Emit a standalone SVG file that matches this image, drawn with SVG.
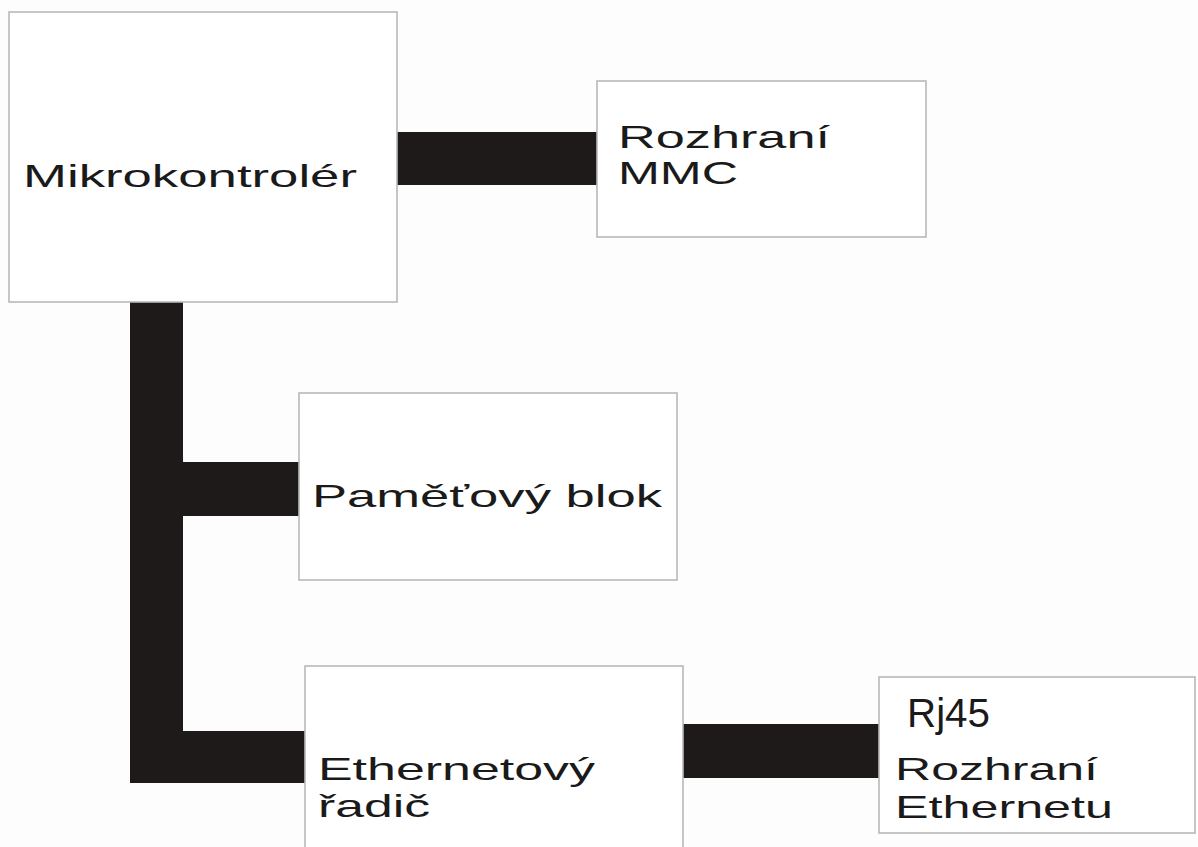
<svg xmlns="http://www.w3.org/2000/svg" width="1198" height="847" viewBox="0 0 1198 847">
<style>
.box{fill:#ffffff;stroke:#b8b8b8;stroke-width:1.6}
.bar{fill:#1e1a19}
.t{font-family:"Liberation Sans",Arial,sans-serif;font-size:32px;fill:#1a1a1a}
</style>
<rect width="1198" height="847" fill="#fdfdfd"/>
<g id="connectors">
<rect class="bar" x="397" y="132" width="201" height="53"/>
<rect class="bar" x="130" y="302" width="53" height="481"/>
<rect class="bar" x="182" y="462" width="118" height="54"/>
<rect class="bar" x="182" y="731" width="124" height="52"/>
<rect class="bar" x="682" y="724" width="198" height="54"/>
</g>
<g id="mikrokontroler">
<rect class="box" x="9" y="12" width="388" height="290"/>
<text class="t" x="23" y="187" textLength="334" lengthAdjust="spacingAndGlyphs">Mikrokontrolér</text>
</g>
<g id="rozhrani-mmc">
<rect class="box" x="597" y="81" width="329" height="156"/>
<text class="t" x="618" y="148" textLength="212" lengthAdjust="spacingAndGlyphs">Rozhraní</text>
<text class="t" x="618" y="184" textLength="120" lengthAdjust="spacingAndGlyphs">MMC</text>
</g>
<g id="pametovy-blok">
<rect class="box" x="299" y="393" width="378" height="187"/>
<text class="t" x="312" y="507" textLength="350" lengthAdjust="spacingAndGlyphs">Paměťový blok</text>
</g>
<g id="ethernetovy-radic">
<rect class="box" x="305" y="666" width="378" height="190"/>
<text class="t" x="318" y="780" textLength="277" lengthAdjust="spacingAndGlyphs">Ethernetový</text>
<text class="t" x="318" y="817" textLength="112" lengthAdjust="spacingAndGlyphs">řadič</text>
</g>
<g id="rozhrani-ethernetu">
<rect class="box" x="879" y="677" width="316" height="156"/>
<text class="t" x="907" y="727" style="font-size:40px" textLength="83" lengthAdjust="spacingAndGlyphs">Rj45</text>
<text class="t" x="895" y="780" textLength="203" lengthAdjust="spacingAndGlyphs">Rozhraní</text>
<text class="t" x="895" y="818" textLength="218" lengthAdjust="spacingAndGlyphs">Ethernetu</text>
</g>
</svg>
